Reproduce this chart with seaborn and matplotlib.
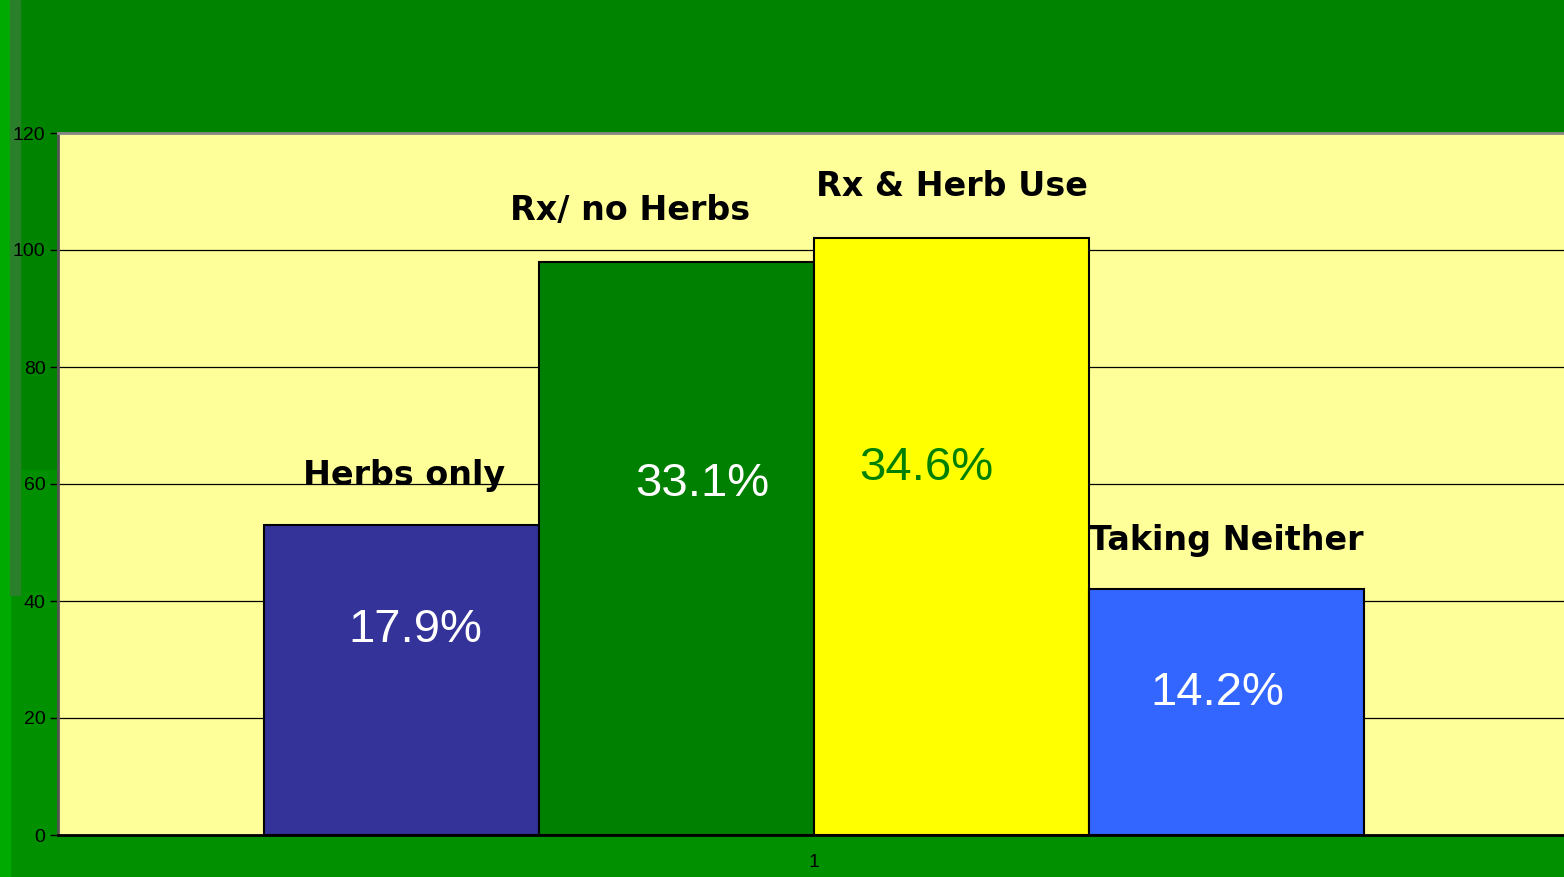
import matplotlib
matplotlib.use("Agg")
import matplotlib.pyplot as plt
import matplotlib.patches as mpatches
import pandas as pd
import seaborn as sns

# data
groups = ["1", "1", "1", "1"]
categories = ["Herbs only", "Rx/ no Herbs", "Rx & Herb Use", "Taking Neither"]
values = [53, 98, 102, 42]
percents = ["17.9%", "33.1%", "34.6%", "14.2%"]

bar_colors = ["#333399", "#008000", "#FFFF00", "#3366FF"]
pct_colors = ["white", "white", "#008000", "white"]
# label placement (x offset in bar widths, y in data units)
name_dx = [0.01, -0.17, 0.0, 0.0]
name_y = [61.5, 106.8, 110.9, 50.4]
pct_dx = [0.05, 0.095, -0.09, -0.035]
pct_y = [35.0, 60.0, 62.7, 24.3]

df = pd.DataFrame({"group": groups, "category": categories, "value": values})

sns.set_style("white")
plt.rcParams["font.family"] = ["Liberation Sans", "DejaVu Sans"]

W, H = 1564, 877
fig = plt.figure(figsize=(W / 100, H / 100), dpi=100)
fig.patch.set_facecolor("#008400")

# background strips
fig.add_artist(mpatches.Rectangle((10 / W, 0), 1, 1 - 590 / H, transform=fig.transFigure,
                                  color="#009000", zorder=0))
fig.add_artist(mpatches.Rectangle((20 / W, 1 - 590 / H), 38 / W, 120 / H,
                                  transform=fig.transFigure, color="#008f00", zorder=0))
fig.add_artist(mpatches.Rectangle((0, 0), 10 / W, 1, transform=fig.transFigure,
                                  color="#00aa00", zorder=0))
fig.add_artist(mpatches.Rectangle((10 / W, 1 - 595 / H), 10 / W, 595 / H,
                                  transform=fig.transFigure, color="#2a7f2a", zorder=0))

left, right, top, bottom = 58, 1570, 133, 835
ax = fig.add_axes([left / W, 1 - bottom / H, (right - left) / W, (bottom - top) / H])
ax.set_facecolor("#FFFF99")

bar_w = 1100 / (right - left)
sns.barplot(data=df, x="group", y="value", hue="category", hue_order=categories,
            palette=bar_colors, width=bar_w, edgecolor="black", linewidth=1.5,
            saturation=1, legend=False, ax=ax, zorder=3)

ax.set_xlim(-0.5, 0.5)
ax.set_ylim(0, 120)
ax.set_yticks(range(0, 121, 20))
ax.yaxis.grid(True, color="black", linewidth=0.9, zorder=0)
ax.set_axisbelow(True)
ax.set_xlabel("")
ax.set_ylabel("")
ax.tick_params(axis="y", direction="out", length=6, width=1, color="black",
               labelsize=14, labelcolor="black", pad=3, left=True)
ax.tick_params(axis="x", direction="out", length=0, labelsize=14,
               labelcolor="black", pad=14)

ax.spines["top"].set_visible(True)
ax.spines["top"].set_color("#888888")
ax.spines["top"].set_linewidth(2)
ax.spines["right"].set_visible(False)
ax.spines["left"].set_color("#555555")
ax.spines["left"].set_linewidth(2)
ax.spines["bottom"].set_color("black")
ax.spines["bottom"].set_linewidth(2)

bars = sorted(ax.patches, key=lambda p: p.get_x())
bars = [b for b in bars if b.get_height() > 0]
for i, b in enumerate(bars):
    cx = b.get_x() + b.get_width() / 2
    bw = b.get_width()
    ax.text(cx + name_dx[i] * bw, name_y[i], categories[i], ha="center", va="center",
            fontsize=24, fontweight="bold", color="black", zorder=5,
            family=["DejaVu Sans"])
    ax.text(cx + pct_dx[i] * bw, pct_y[i], percents[i], ha="center", va="center",
            fontsize=34, color=pct_colors[i], zorder=5)

fig.savefig("out.png", dpi=100, facecolor=fig.get_facecolor())
